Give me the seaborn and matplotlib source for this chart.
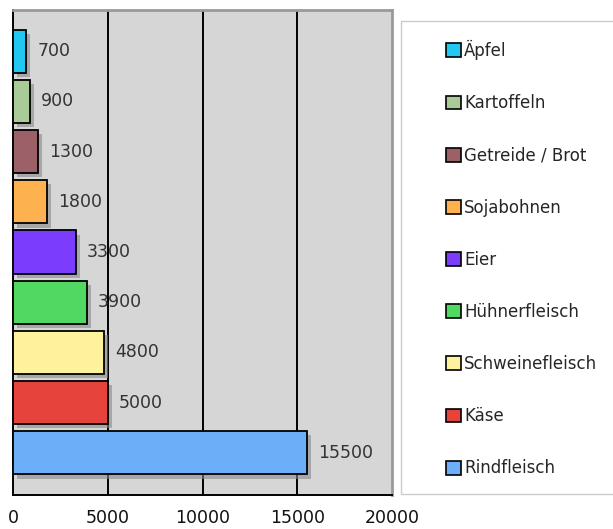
import matplotlib
matplotlib.use("Agg")
import matplotlib.pyplot as plt
import matplotlib.patheffects as pe
from matplotlib.patches import Rectangle, Patch
import seaborn as sns

# data, top to bottom
foods = ["Äpfel", "Kartoffeln", "Getreide / Brot", "Sojabohnen", "Eier",
         "Hühnerfleisch", "Schweinefleisch", "Käse", "Rindfleisch"]
amounts = [700, 900, 1300, 1800, 3300, 3900, 4800, 5000, 15500]
colors = ["#22C8F2", "#A9CB98", "#9C6069", "#FDB24F", "#7B3CFC",
          "#50D863", "#FFF29C", "#E5433C", "#6DAEF8"]
xticks = [0, 5000, 10000, 15000, 20000]

sns.set_theme(style="white")
plt.rcParams['font.family'] = ['DejaVu Sans']

fig = plt.figure(figsize=(6.13, 5.29), dpi=100)
ax = fig.add_axes([13 / 613, 34 / 529, 379 / 613, 485 / 529])
ax.set_facecolor("#D6D6D6")

sns.barplot(x=amounts, y=foods, hue=foods, palette=colors, orient="h",
            width=0.86, edgecolor="black", linewidth=1.3, legend=False,
            saturation=1, ax=ax, zorder=3)

shadow = [pe.SimplePatchShadow(offset=(3, -3), shadow_rgbFace="#888888", alpha=0.6),
          pe.Normal()]
for p in ax.patches:
    p.set_path_effects(shadow)

for c in ax.containers:
    ax.bar_label(c, padding=8, fontsize=12.5, color="#333333")

ax.set_xlim(0, 20000)
ax.set_ylim(8.84, -0.82)
ax.set_xticks(xticks)
ax.set_xticklabels([str(t) for t in xticks], fontsize=12.5, color="#111111")
ax.set_yticks([])
ax.set_ylabel("")
ax.tick_params(axis="x", direction="out", length=5, width=1.2, color="black", pad=5)
for t in xticks[1:-1]:
    ax.axvline(t, color="black", lw=1.4, zorder=1)

for s in ["top", "right"]:
    ax.spines[s].set_color("#9A9A9A")
    ax.spines[s].set_linewidth(2)
ax.spines["left"].set_color("black")
ax.spines["left"].set_linewidth(1.4)
ax.spines["bottom"].set_color("black")
ax.spines["bottom"].set_linewidth(1.4)

# legend box
fig.patches.append(Rectangle((401 / 613, 35 / 529), 220 / 613, 473 / 529,
                             transform=fig.transFigure, facecolor="white",
                             edgecolor="#CCCCCC", lw=1.0))
handles = [Patch(facecolor=col, edgecolor="black", lw=1.2) for col in colors]
fig.legend(handles, foods, loc="upper left", bbox_to_anchor=(446 / 613, 1 - 40 / 529),
           frameon=False, fontsize=12, handlelength=0.9, handleheight=0.9,
           handletextpad=0.18, labelspacing=2.05, borderpad=0, borderaxespad=0)

fig.savefig("out.png", dpi=100)
